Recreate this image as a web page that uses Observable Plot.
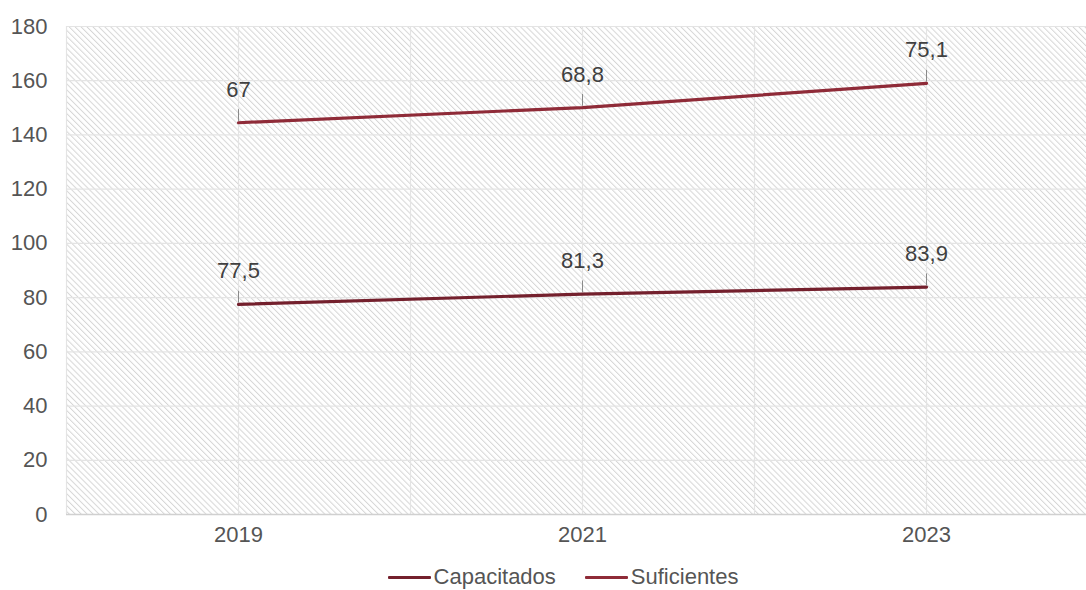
<!DOCTYPE html>
<html>
<head>
<meta charset="utf-8">
<script src="https://cdn.jsdelivr.net/npm/d3@7"></script>
<script src="https://cdn.jsdelivr.net/npm/@observablehq/plot@0.6"></script>
<style>
  html, body { margin: 0; padding: 0; background: #fff; overflow: hidden; }
  #chart svg { overflow: hidden; display: block; }
  .legend { display: flex; justify-content: center; align-items: center; gap: 29px;
            font-family: "Liberation Sans", Arial, sans-serif; font-size: 22px; color: #555; margin-top: 14px; margin-left: 40px; }
  .legend .item { display: flex; align-items: center; }
  .legend .sw { width: 43px; height: 3px; margin-right: 3px; border-radius: 1px; }
</style>
</head>
<body>
<div id="chart"></div>
<script>
const years = [2019, 2021, 2023];
const seriesNames = ["Capacitados", "Suficientes"];
const capacitados = [77.5, 81.3, 83.9];
const suficientes = [67, 68.8, 75.1];
const colors = ["#74202d", "#8f2b38"];
const yTicks = [0, 20, 40, 60, 80, 100, 120, 140, 160, 180];
const xGrid = [2018, 2019, 2020, 2021, 2022, 2023, 2024];

const rows = [];
years.forEach((yr, i) => {
  rows.push({year: yr, series: seriesNames[0], value: capacitados[i], top: capacitados[i]});
  rows.push({year: yr, series: seriesNames[1], value: suficientes[i], top: capacitados[i] + suficientes[i]});
});
const fmt = v => String(v).replace(".", ",");

const plot = Plot.plot({
  width: 1086,
  height: 550,
  marginTop: 26,
  marginBottom: 36,
  marginLeft: 66,
  marginRight: 0,
  style: {fontFamily: "'Liberation Sans', Arial, sans-serif", fontSize: "22px", color: "#555", background: "#fff"},
  x: {domain: [2018, 2024], range: [66, 1098], label: null},
  y: {domain: [0, 180], label: null},
  color: {domain: seriesNames, range: colors},
  marks: [
    Plot.frame({fill: "url(#hatch)", stroke: null}),
    Plot.gridY(yTicks, {stroke: "#e4e4e4", strokeOpacity: 1, strokeWidth: 1.2}),
    Plot.gridX(xGrid, {stroke: "#e4e4e4", strokeOpacity: 1, strokeWidth: 1.2}),
    Plot.ruleY([0], {stroke: "#d0d0d0", strokeWidth: 1.5}),
    Plot.axisX({ticks: years, tickFormat: d => String(d), tickSize: 0, tickPadding: 12, fill: "#555", fontSize: 22}),
    Plot.axisY({ticks: yTicks, tickSize: 0, tickPadding: 19, fill: "#555", fontSize: 22}),
    Plot.link(rows, {x1: "year", x2: "year", y1: d => d.top + 0.7, y2: d => d.top + 5, stroke: "#8a8a8a", strokeWidth: 1}),
    Plot.line(rows, {x: "year", y: "top", z: "series", stroke: "series", strokeWidth: 3.2}),
    Plot.text(rows, {x: "year", y: "top", text: d => fmt(d.value), dy: -33, fill: "#404040", fontSize: 22, textAnchor: "middle"})
  ]
});

const ns = "http://www.w3.org/2000/svg";
const defs = document.createElementNS(ns, "defs");
const pat = document.createElementNS(ns, "pattern");
pat.setAttribute("id", "hatch");
pat.setAttribute("patternUnits", "userSpaceOnUse");
pat.setAttribute("width", "4.2");
pat.setAttribute("height", "4.2");
pat.setAttribute("patternTransform", "rotate(-45)");
const bg = document.createElementNS(ns, "rect");
bg.setAttribute("width", "4.2"); bg.setAttribute("height", "4.2"); bg.setAttribute("fill", "#fff");
const ln = document.createElementNS(ns, "line");
ln.setAttribute("x1", "0.5"); ln.setAttribute("y1", "0"); ln.setAttribute("x2", "0.5"); ln.setAttribute("y2", "4.2");
ln.setAttribute("stroke", "#d6d6d6"); ln.setAttribute("stroke-width", "1");
pat.appendChild(bg); pat.appendChild(ln);
defs.appendChild(pat);
plot.insertBefore(defs, plot.firstChild);

document.getElementById("chart").appendChild(plot);

const legend = document.createElement("div");
legend.className = "legend";
seriesNames.forEach((s, i) => {
  const it = document.createElement("div");
  it.className = "item";
  const sw = document.createElement("span");
  sw.className = "sw";
  sw.style.background = colors[i];
  const t = document.createElement("span");
  t.textContent = s;
  it.appendChild(sw); it.appendChild(t);
  legend.appendChild(it);
});
document.getElementById("chart").appendChild(legend);
</script>
</body>
</html>
